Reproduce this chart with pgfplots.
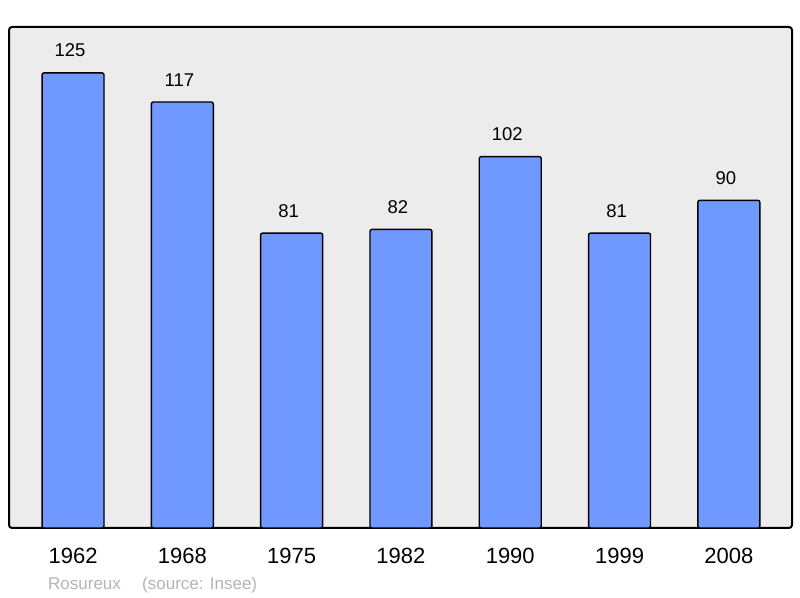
\documentclass[border=0pt]{standalone}
\usepackage{pgfplots}
\pgfplotsset{compat=1.18}
\usepackage{fontspec}
\setmainfont{Liberation Sans}
\definecolor{barblue}{RGB}{112,153,255}
\definecolor{bggray}{RGB}{236,236,236}
\definecolor{srcgray}{RGB}{180,180,180}
\begin{document}
\begin{tikzpicture}[x=1bp,y=1bp]
\path[use as bounding box] (0,0) rectangle (800,598);
\begin{axis}[
  at={(9bp,70bp)}, anchor=south west,
  width=783bp, height=501bp, scale only axis,
  xmin=-0.586, xmax=6.578, ymin=0, ymax=137.6,
  /pgf/number format/assume math mode=true,
  xtick=data,
  xticklabels={1962,1968,1975,1982,1990,1999,2008},
  ytick=\empty,
  major tick length=0pt,
  xticklabel style={inner sep=0pt, yshift=-20bp, font=\fontsize{22bp}{26bp}\selectfont},
  axis background/.style={fill=bggray, rounded corners=3bp},
  axis line style={line width=2bp, rounded corners=3bp},
  ybar, bar width=0.567, bar shift=0,
  nodes near coords={\pgfmathprintnumber[assume math mode=true]{\pgfplotspointmeta}},
  every node near coord/.append style={inner sep=0pt, anchor=south, yshift=15bp, xshift=-3bp, font=\fontsize{18.5bp}{22bp}\selectfont, text=black},
  clip=false,
]
\addplot[fill=barblue, draw=black, line width=1.4bp, rounded corners=2bp]
  coordinates {(0,125) (1,117) (2,81) (3,82) (4,102) (5,81) (6,90)};
\end{axis}
\node[anchor=base west, inner sep=0pt, text=srcgray, font=\fontsize{17bp}{20bp}\selectfont] at (48,8) {Rosureux};
\node[anchor=base west, inner sep=0pt, text=srcgray, font=\fontsize{17bp}{20bp}\selectfont] at (142,8) {(source: Insee)};
\end{tikzpicture}
\end{document}
